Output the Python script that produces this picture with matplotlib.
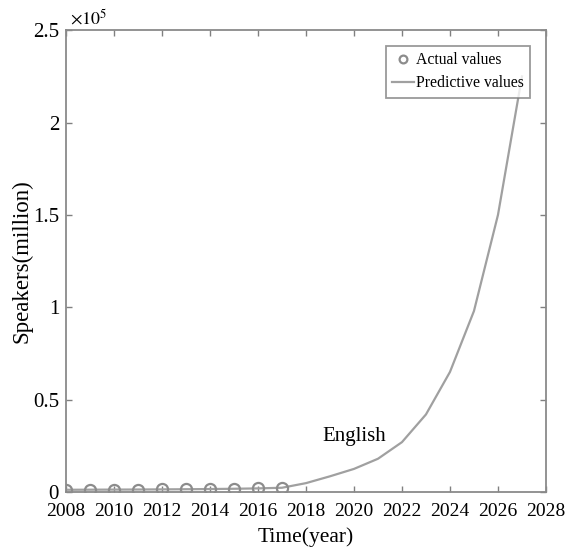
import matplotlib.pyplot as plt
import numpy as np
from matplotlib.ticker import FuncFormatter, MultipleLocator

plt.rcParams['font.family'] = ['Liberation Serif', 'DejaVu Serif']
plt.rcParams['mathtext.fontset'] = 'stix'

# 实际值 (2008-2017) 与预测值 (2008-2027)，单位：百万
years_actual = [2008, 2009, 2010, 2011, 2012, 2013, 2014, 2015, 2016, 2017]
actual = [1150, 1200, 1280, 1330, 1400, 1480, 1560, 1700, 1900, 2100]

years_pred = [2008, 2009, 2010, 2011, 2012, 2013, 2014, 2015, 2016, 2017,
              2018, 2019, 2020, 2021, 2022, 2023, 2024, 2025, 2026, 2027]
predicted = [1200, 1250, 1300, 1350, 1420, 1500, 1600, 1750, 1950, 2300,
             4800, 8500, 12500, 18000, 27000, 42000, 65000, 98000, 150000, 225000]

fig = plt.figure(figsize=(5.66, 5.57), dpi=100)
ax = fig.add_axes([0.1166, 0.1167, 0.848, 0.829])

ax.plot(years_actual, actual, 'o', markersize=8, markerfacecolor='none',
        markeredgecolor='#8c8c8c', markeredgewidth=1.6, label='Actual values',
        zorder=3)
ax.plot(years_pred, predicted, '-', color='#a0a0a0', linewidth=1.6,
        label='Predictive values', zorder=2)

ax.text(2020, 30000, 'English', fontsize=15, ha='center', va='center')

ax.set_xlim(2008, 2028)
ax.set_ylim(0, 2.5e5)
ax.xaxis.set_major_locator(MultipleLocator(2))
ax.yaxis.set_major_locator(MultipleLocator(0.5e5))
ax.yaxis.set_major_formatter(FuncFormatter(lambda v, p: f'{v / 1e5:g}'))

ax.tick_params(direction='in', top=True, right=True, length=4, width=1,
               color='#808080')
ax.tick_params(axis='x', pad=8, labelsize=14)
ax.tick_params(axis='y', pad=5, labelsize=15)
for s in ax.spines.values():
    s.set_color('#8a8a8a')
    s.set_linewidth(1.3)

ax.text(0.008, 1.005, r'$\times10^5$', transform=ax.transAxes, fontsize=13,
        ha='left', va='bottom')

ax.set_xlabel('Time(year)', fontsize=15.5, labelpad=5)
ax.set_ylabel('Speakers(million)', fontsize=16.5, labelpad=0)

leg = ax.legend(loc='upper right', fontsize=11.3, frameon=True, fancybox=False,
                edgecolor='#808080', handlelength=1.4, handletextpad=0.15,
                borderpad=0.4, labelspacing=0.45, borderaxespad=1.0,
                markerscale=0.7)
leg.get_frame().set_linewidth(1.3)

plt.savefig('out.png', dpi=100)
